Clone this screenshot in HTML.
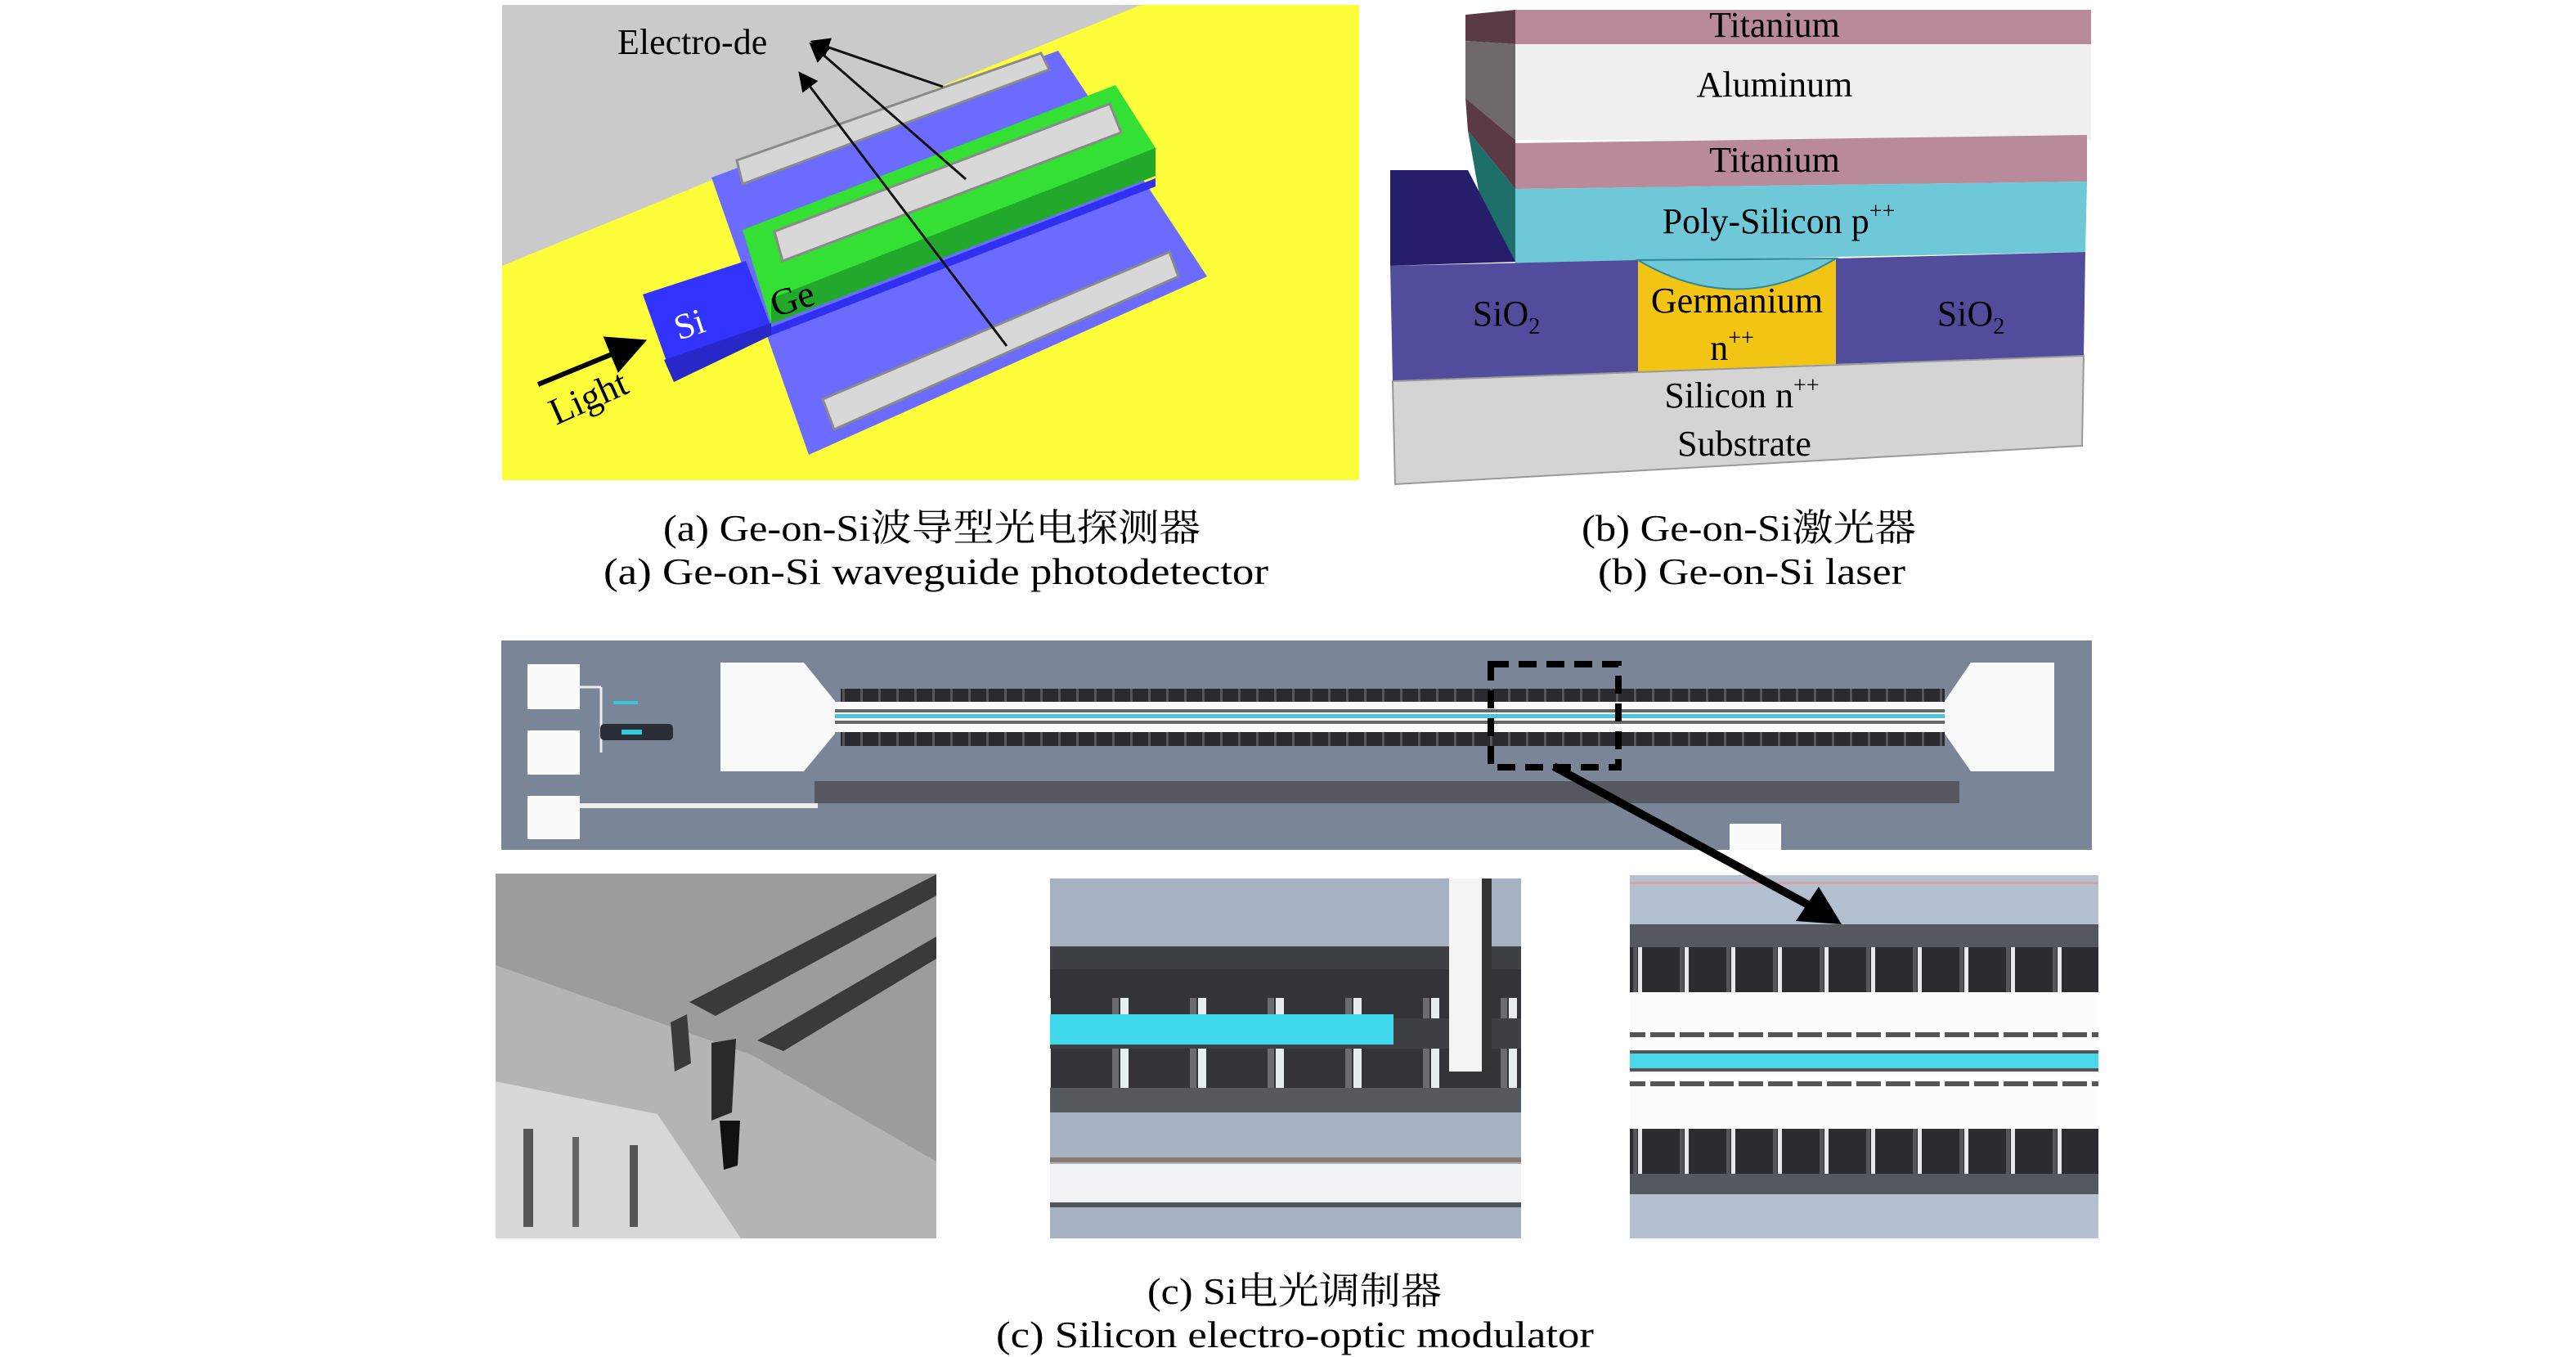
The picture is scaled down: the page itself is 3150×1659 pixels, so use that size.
<!DOCTYPE html>
<html><head><meta charset="utf-8"><style>
html,body{margin:0;padding:0;background:#fff;}
svg{display:block;}
text{font-family:"Liberation Serif","Noto Serif CJK SC",serif;}
</style></head><body>
<svg width="3150" height="1659" viewBox="0 0 3150 1659" xmlns="http://www.w3.org/2000/svg">
<defs>
<marker id="ah" markerWidth="8" markerHeight="8" refX="6" refY="4" orient="auto" markerUnits="strokeWidth"><path d="M0,0 L8,4 L0,8 z" fill="#000"/></marker>
<pattern id="vbars" width="22" height="40" patternUnits="userSpaceOnUse"><rect width="22" height="40" fill="#2a2a30"/><rect x="18" width="3" height="40" fill="#55555c"/></pattern>
<pattern id="rbars" width="57" height="100" patternUnits="userSpaceOnUse"><rect width="57" height="100" fill="#2c2c30"/><rect x="8" width="5" height="100" fill="#e8e8ee"/><rect x="2" width="5" height="100" fill="#55565c"/></pattern>
<pattern id="mbars" width="95" height="200" patternUnits="userSpaceOnUse"><rect width="95" height="200" fill="#333338"/><rect x="40" y="20" width="10" height="160" fill="#e8eef0"/><rect x="30" y="20" width="8" height="160" fill="#6a6c70"/></pattern>
<pattern id="dash" width="36" height="10" patternUnits="userSpaceOnUse"><rect width="36" height="10" fill="#fff"/><rect x="2" y="2" width="30" height="6" fill="#555"/></pattern>
</defs>

<!-- Panel a -->
<rect x="614" y="6" width="1048" height="581" fill="#fdfd3a"/>
<polygon points="614,6 1395,6 614,325" fill="#cacaca"/>
<polygon points="870,217 1294,62 1476,338 989,556" fill="#6b6bff"/>
<polygon points="901,196 1273,65 1283,85 908,225" fill="#d6d6d6" stroke="#8a8a8a" stroke-width="3"/>
<polygon points="908,281 1364,104 1413,181 1413,215 943,396" fill="#33e033"/>
<polygon points="943,396 1413,215 1413,181 943,365" fill="#22a82a"/>
<polygon points="947,283 1357,127 1371,162 957,319" fill="#d8d8d8" stroke="#8a8a8a" stroke-width="3"/>
<polygon points="943,400 1413,218 1413,228 943,410" fill="#3030f0"/>
<polygon points="786,360 912,319 943,400 824,467" fill="#3333ff"/>
<polygon points="812,440 943,395 943,410 824,467" fill="#2828c8"/>
<polygon points="1006,488 1430,308 1441,338 1020,525" fill="#d8d8d8" stroke="#8a8a8a" stroke-width="3"/>
<g stroke="#111" stroke-width="3" fill="none" marker-end="url(#ah)">
<line x1="1153" y1="106" x2="996" y2="52"/>
<line x1="1181" y1="219" x2="994" y2="56"/>
<line x1="1231" y1="423" x2="980" y2="92"/>
</g>
<text x="755" y="66" font-size="44">Electro-de</text>
<text x="0" y="0" font-size="44" fill="#fff" transform="translate(830,416) rotate(-18)">Si</text>
<text x="0" y="0" font-size="46" fill="#000" transform="translate(948,388) rotate(-18)">Ge</text>
<line x1="658" y1="470" x2="780" y2="420" stroke="#000" stroke-width="6" marker-end="url(#ah)"/>
<text x="0" y="0" font-size="46" transform="translate(680,520) rotate(-24)">Light</text>

<!-- Panel b -->
<polygon points="1792,18 1853,12 1853,54 1792,50" fill="#5a3a44"/>
<polygon points="1792,50 1853,54 1853,171 1792,120" fill="#6e6868"/>
<polygon points="1792,120 1853,171 1853,231 1795,160" fill="#5a3a44"/>
<polygon points="1795,160 1853,231 1853,320 1820,300" fill="#1e6e6a"/>
<polygon points="1700,208 1795,208 1853,320 1700,325" fill="#261e6a"/>
<polygon points="1853,12 2557,12 2557,54 1853,54" fill="#b88a9a"/>
<rect x="1853" y="54" width="704" height="117" fill="#efefef"/>
<polygon points="1853,175 2552,165 2552,222 1853,231" fill="#b88a9a"/>
<polygon points="1853,231 2552,222 2550,308 1853,322" fill="#6ec8d8"/>
<polygon points="1700,325 2003,318 2003,462 1703,466" fill="#524c9c"/>
<polygon points="2245,316 2550,308 2548,435 2245,445" fill="#524c9c"/>
<polygon points="2003,318 2245,316 2245,445 2003,455" fill="#f2c414"/>
<path d="M2003,318 Q2124,390 2245,316 Z" fill="#6ec8d8" stroke="#2a8a9a" stroke-width="2"/>
<polygon points="1703,466 2548,435 2546,545 1706,592" fill="#d4d4d4" stroke="#999" stroke-width="2"/>
<g font-size="44" text-anchor="middle">
<text x="2170" y="45">Titanium</text>
<text x="2170" y="118">Aluminum</text>
<text x="2170" y="210">Titanium</text>
<text x="2175" y="285">Poly-Silicon p<tspan dy="-18" font-size="28">++</tspan></text>
<text x="1842" y="398">SiO<tspan dy="10" font-size="28">2</tspan></text>
<text x="2124" y="382">Germanium</text>
<text x="2118" y="440">n<tspan dy="-18" font-size="28">++</tspan></text>
<text x="2410" y="398">SiO<tspan dy="10" font-size="28">2</tspan></text>
<text x="2130" y="498">Silicon n<tspan dy="-18" font-size="28">++</tspan></text>
<text x="2133" y="557">Substrate</text>
</g>

<!-- captions a,b -->
<g font-size="46">
<text x="811" y="661" textLength="657" lengthAdjust="spacingAndGlyphs">(a) Ge-on-Si波导型光电探测器</text>
<text x="738" y="714" textLength="813" lengthAdjust="spacingAndGlyphs">(a) Ge-on-Si waveguide photodetector</text>
<text x="1934" y="661" textLength="409" lengthAdjust="spacingAndGlyphs">(b) Ge-on-Si激光器</text>
<text x="1954" y="714" textLength="376" lengthAdjust="spacingAndGlyphs">(b) Ge-on-Si laser</text>
</g>

<!-- Panel c top chip -->
<rect x="613" y="783" width="1945" height="256" fill="#7a8598"/>
<rect x="645" y="812" width="64" height="55" fill="#fafafa"/>
<rect x="645" y="893" width="64" height="54" fill="#fafafa"/>
<rect x="645" y="973" width="64" height="53" fill="#fafafa"/>
<line x1="709" y1="840" x2="735" y2="840" stroke="#eee" stroke-width="3"/>
<line x1="735" y1="840" x2="735" y2="920" stroke="#eee" stroke-width="3"/>
<line x1="709" y1="985" x2="1000" y2="985" stroke="#eee" stroke-width="6"/>
<rect x="734" y="885" width="89" height="20" rx="5" fill="#2a2e36"/>
<rect x="760" y="892" width="25" height="6" fill="#33c8dc"/>
<rect x="750" y="857" width="30" height="4" fill="#33c8dc"/>
<polygon points="881,810 983,810 1021,857 1021,897 983,943 881,943" fill="#fafafa"/>
<polygon points="2512,810 2410,810 2378,857 2378,897 2410,943 2512,943" fill="#fafafa"/>
<rect x="1028" y="842" width="1350" height="16" fill="url(#vbars)"/>
<rect x="1028" y="895" width="1350" height="17" fill="url(#vbars)"/>
<rect x="1021" y="858" width="1357" height="37" fill="#fafafa"/>
<rect x="1021" y="867" width="1357" height="4" fill="#666"/>
<rect x="1021" y="873" width="1357" height="5" fill="#4cc8dc"/>
<rect x="1021" y="881" width="1357" height="4" fill="#666"/>
<rect x="996" y="955" width="1400" height="27" fill="#55585e"/>
<rect x="2115" y="1007" width="63" height="32" fill="#fafafa"/>
<g stroke="#000" stroke-width="8" fill="none" stroke-dasharray="22,12">
<rect x="1823" y="812" width="156" height="126"/>
</g>

<!-- SEM image -->
<rect x="606" y="1068" width="539" height="446" fill="#9c9c9c"/>
<polygon points="606,1180 920,1290 1145,1420 1145,1514 906,1514 804,1362 606,1322" fill="#b4b4b4"/>
<polygon points="606,1322 804,1362 906,1514 606,1514" fill="#d8d8d8"/>
<polygon points="843,1225 1145,1069 1145,1095 875,1242" fill="#3a3a3a"/>
<polygon points="926,1272 1145,1145 1145,1172 958,1285" fill="#3a3a3a"/>
<polygon points="820,1250 840,1240 845,1300 825,1310" fill="#3a3a3a"/>
<polygon points="870,1275 900,1270 895,1360 870,1370" fill="#2a2a2a"/>
<polygon points="880,1370 905,1370 902,1425 885,1430" fill="#111"/>
<rect x="640" y="1380" width="12" height="120" fill="#555"/>
<rect x="700" y="1390" width="8" height="110" fill="#666"/>
<rect x="770" y="1400" width="10" height="100" fill="#555"/>

<!-- middle image -->
<rect x="1284" y="1074" width="576" height="440" fill="#a6b2c2"/>
<rect x="1284" y="1157" width="576" height="203" fill="#3e4044"/>
<rect x="1284" y="1185" width="576" height="60" fill="url(#mbars)"/>
<rect x="1284" y="1282" width="576" height="55" fill="url(#mbars)"/>
<rect x="1284" y="1240" width="420" height="37" fill="#40d8ec"/>
<rect x="1284" y="1330" width="576" height="30" fill="#55585c"/>
<rect x="1772" y="1074" width="40" height="236" fill="#f4f4f4"/>
<rect x="1812" y="1074" width="12" height="236" fill="#333"/>
<rect x="1284" y="1423" width="576" height="47" fill="#f0f2f4"/>
<rect x="1284" y="1415" width="576" height="6" fill="#8a7a70"/>
<rect x="1284" y="1470" width="576" height="6" fill="#50545a"/>

<!-- right image -->
<rect x="1993" y="1070" width="573" height="444" fill="#b2c0d0"/>
<rect x="1993" y="1078" width="573" height="3" fill="#d8a0a8"/>
<rect x="1993" y="1130" width="573" height="28" fill="#55585e"/>
<rect x="1993" y="1158" width="573" height="55" fill="url(#rbars)"/>
<rect x="1993" y="1213" width="573" height="167" fill="#fcfcfc"/>
<rect x="1993" y="1258" width="573" height="10" fill="url(#dash)"/>
<rect x="1993" y="1284" width="573" height="4" fill="#555"/>
<rect x="1993" y="1288" width="573" height="18" fill="#4cd8ec"/>
<rect x="1993" y="1306" width="573" height="4" fill="#555"/>
<rect x="1993" y="1318" width="573" height="10" fill="url(#dash)"/>
<rect x="1993" y="1380" width="573" height="55" fill="url(#rbars)"/>
<rect x="1993" y="1435" width="573" height="25" fill="#55585e"/>

<!-- zoom arrow on top -->
<line x1="1900" y1="937" x2="2222" y2="1112" stroke="#000" stroke-width="10"/>
<polygon points="2252,1130 2196,1126 2224,1084" fill="#000"/>

<!-- captions c -->
<g font-size="46">
<text x="1403" y="1594" textLength="360" lengthAdjust="spacingAndGlyphs">(c) Si电光调制器</text>
<text x="1218" y="1647" textLength="731" lengthAdjust="spacingAndGlyphs">(c) Silicon electro-optic modulator</text>
</g>
</svg>
</body></html>
